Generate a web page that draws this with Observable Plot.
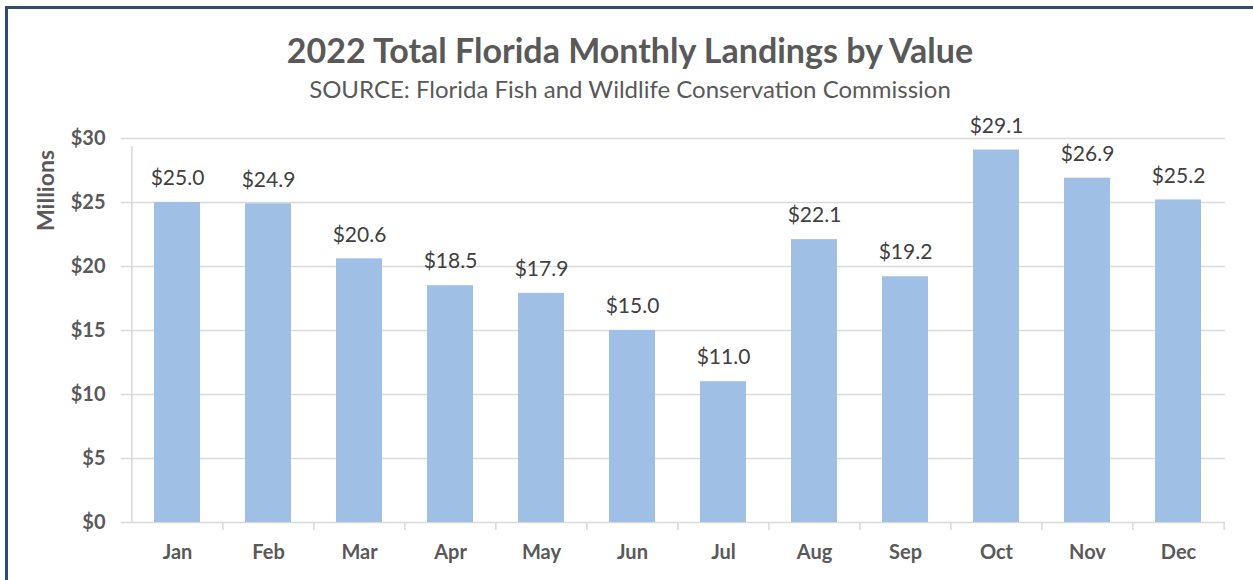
<!DOCTYPE html>
<html>
<head>
<meta charset="utf-8">
<script src="https://cdn.jsdelivr.net/npm/d3@7"></script>
<script src="https://cdn.jsdelivr.net/npm/@observablehq/plot@0.6"></script>
<style>
  html, body { margin: 0; padding: 0; background: #fff; }
  #wrap { position: relative; width: 1253px; height: 580px; overflow: hidden; font-family: Lato, "Open Sans", sans-serif; }
  #frame { position: absolute; z-index: 5; left: 5px; top: 6px; width: 1300px; height: 700px; border-left: 3px solid #2F4D72; border-top: 3px solid #2F4D72; box-sizing: border-box; pointer-events: none; }
  #head { position: relative; height: 110px; }
  #title { position: absolute; left: 0; width: 1260px; top: 29px; text-align: center; font-weight: bold; font-size: 34px; color: #595959; }
  #subtitle { position: absolute; left: 0; width: 1260px; top: 74px; text-align: center; font-size: 24px; color: #595959; }
  #chart { position: relative; }
</style>
</head>
<body>
<div id="wrap">
  <div id="frame"></div>
  <div id="head">
    <div id="title">2022 Total Florida Monthly Landings by Value</div>
    <div id="subtitle">SOURCE: Florida Fish and Wildlife Conservation Commission</div>
  </div>
  <div id="chart"></div>
</div>
<script>
const months = ["Jan","Feb","Mar","Apr","May","Jun","Jul","Aug","Sep","Oct","Nov","Dec"];
const values = [25.0, 24.9, 20.6, 18.5, 17.9, 15.0, 11.0, 22.1, 19.2, 29.1, 26.9, 25.2];
const yTicks = [0, 5, 10, 15, 20, 25, 30];
const yLabel = "Millions";

const data = months.map((m, i) => ({month: m, value: values[i]}));

const W = 1253, H = 470;
const mL = 130, mR = 28, mT = 28, mB = 58;
const half = (W - mL - mR) / months.length / 2;

const chart = Plot.plot({
  width: W,
  height: H,
  marginLeft: mL,
  marginRight: mR,
  marginTop: mT,
  marginBottom: mB,
  style: {fontFamily: "Lato, 'Open Sans', sans-serif", background: "white"},
  x: {domain: months, paddingInner: 0.5, paddingOuter: 0.25, label: null},
  y: {domain: [0, 30], label: null},
  marks: [
    Plot.ruleY(yTicks, {stroke: "#D9D9D9", strokeWidth: 1.5, insetLeft: -9}),
    Plot.barY(data, {x: "month", y: "value", fill: "#9FBFE5"}),
    Plot.ruleX(months, {x: d => d, y1: 0, y2: d => d === "Jan" ? 30 : 0, dx: -half, insetBottom: -8, stroke: "#D9D9D9", strokeWidth: 1.5}),
    Plot.ruleX(["Dec"], {x: d => d, y1: 0, y2: 0, dx: half, insetBottom: -8, stroke: "#D9D9D9", strokeWidth: 1.5}),
    Plot.axisY({ticks: yTicks, tickSize: 0, tickPadding: 25, tickFormat: d => "$" + d, fontSize: 20, fontWeight: "bold", fill: "#595959", label: null}),
    Plot.axisX({tickSize: 0, tickPadding: 22, fontSize: 20, fontWeight: "bold", fill: "#595959", label: null}),
    Plot.text(data, {x: "month", y: "value", text: d => "$" + d.value.toFixed(1), dy: -24, fontSize: 21, fill: "#404040"}),
    Plot.text([yLabel], {frameAnchor: "top-left", text: d => d, rotate: -90, dx: -84, dy: 52, textAnchor: "middle", lineAnchor: "middle", fontSize: 23, fontWeight: "bold", fill: "#595959"})
  ]
});
document.getElementById("chart").appendChild(chart);
</script>
</body>
</html>
